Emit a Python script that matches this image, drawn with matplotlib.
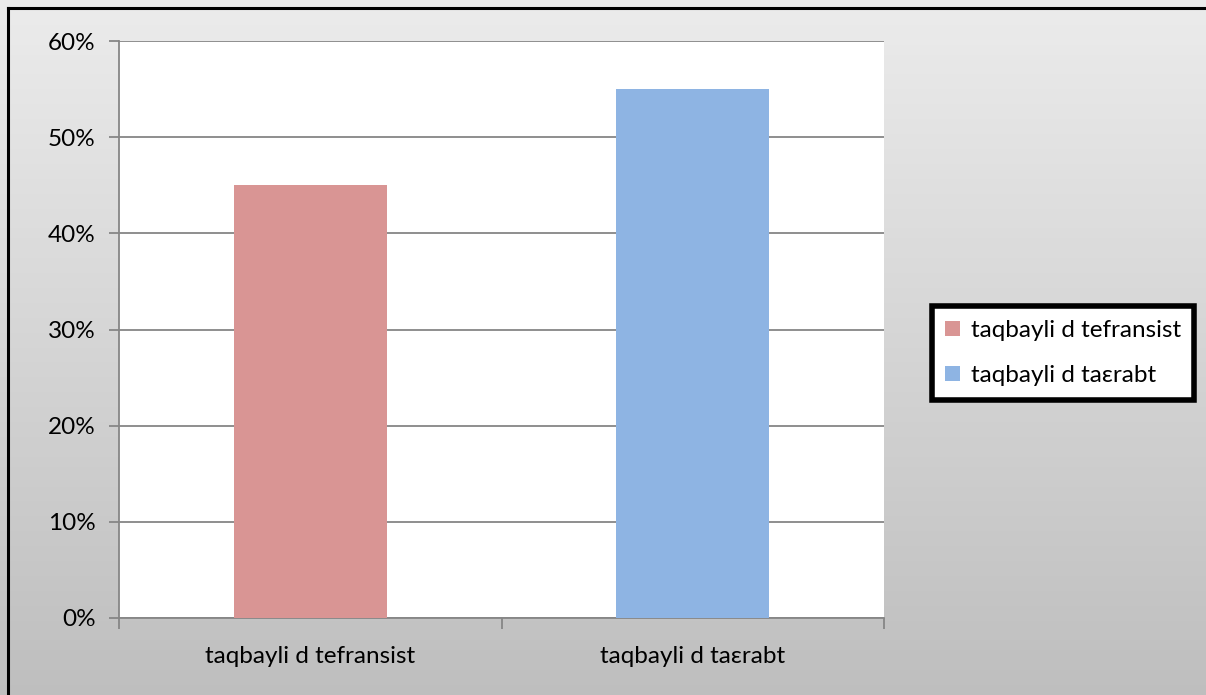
import matplotlib
matplotlib.use("Agg")
import matplotlib.pyplot as plt
import numpy as np
from matplotlib.colors import LinearSegmentedColormap
from matplotlib.lines import Line2D

categories = ["taqbayli d tefransist", "taqbayli d taεrabt"]
values = [0.45, 0.55]
colors = ["#D99594", "#8EB4E3"]
yticks = [0, 0.1, 0.2, 0.3, 0.4, 0.5, 0.6]
ytick_labels = ["0%", "10%", "20%", "30%", "40%", "50%", "60%"]

plt.rcParams['font.family'] = ['Lato', 'DejaVu Sans']
FS = 17.5

W, H = 1206, 695
fig = plt.figure(figsize=(W / 100, H / 100), dpi=100)

# gradient background drawn as horizontal strips
bg = fig.add_axes([0, 0, 1, 1], zorder=-10)
bg.set_xlim(0, 1); bg.set_ylim(0, 1)
bg.axis("off")
cmap = LinearSegmentedColormap.from_list("g", ["#BEBEBE", "#EBEBEB"])
n = 140
edges = np.linspace(0, 1, n + 1)
for i in range(n):
    bg.axhspan(edges[i], edges[i + 1] + 0.002, color=cmap(i / (n - 1)),
               linewidth=0, zorder=0)
# outer border (left and top only visible)
bg.add_line(Line2D([8 / W, 8 / W], [-0.1, 1 - 8 / H], color="black",
                   linewidth=2.2, zorder=2))
bg.add_line(Line2D([8 / W, 1.1], [1 - 8 / H, 1 - 8 / H], color="black",
                   linewidth=2.2, zorder=2))

ax = fig.add_axes([119 / W, 1 - 618 / H, (884 - 119) / W, (618 - 41) / H])
ax.set_facecolor("white")
x = np.arange(len(categories))
bars = ax.bar(x, values, width=0.4, color=colors, zorder=3)
ax.set_xlim(-0.5, 1.5)
ax.set_ylim(0, 0.6)
ax.set_yticks(yticks)
ax.set_yticklabels(ytick_labels, fontsize=FS)
ax.yaxis.grid(True, color="#868686", linewidth=1.3, zorder=0)
ax.set_xticks([-0.5, 0.5, 1.5], minor=False)
ax.set_xticklabels([])
ax.set_xticks(x, minor=True)
ax.set_xticklabels(categories, minor=True, fontsize=FS)
ax.tick_params(axis="x", which="minor", length=0, pad=20)
ax.tick_params(axis="x", which="major", length=8, color="#868686", width=1.3)
ax.tick_params(axis="y", length=7, color="#868686", width=1.3, pad=10)
for s in ["top", "right"]:
    ax.spines[s].set_visible(False)
for s in ["left", "bottom"]:
    ax.spines[s].set_color("#868686")
    ax.spines[s].set_linewidth(1.3)

leg = fig.legend(bars, categories, loc="center left",
                 bbox_to_anchor=(932 / W, 1 - 353 / H),
                 fontsize=FS, frameon=True, fancybox=False,
                 handlelength=0.6, handleheight=0.6, handletextpad=0.45,
                 labelspacing=1.0, borderpad=0.55, borderaxespad=0)
leg.get_frame().set_edgecolor("black")
leg.get_frame().set_linewidth(4)
leg.get_frame().set_facecolor("white")
leg.get_frame().set_alpha(1)

fig.savefig("out.png", dpi=100)
